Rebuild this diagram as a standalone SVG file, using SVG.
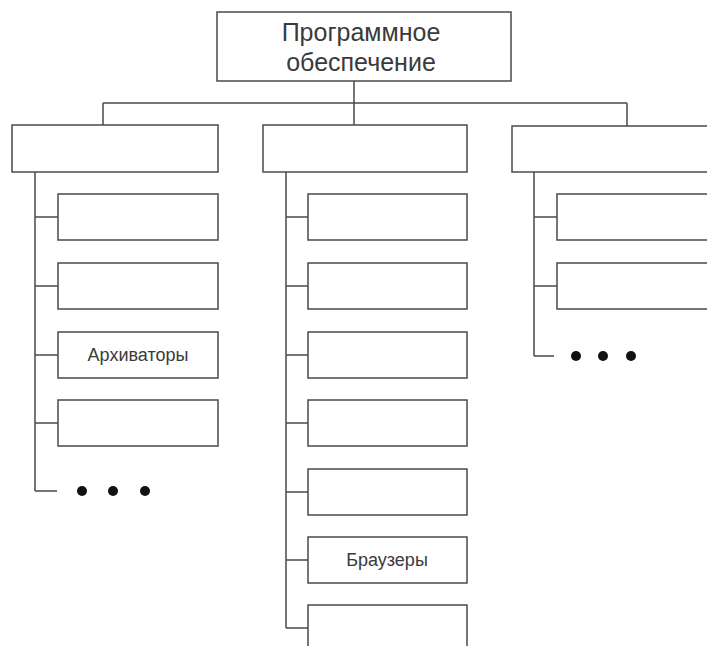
<svg xmlns="http://www.w3.org/2000/svg" width="707" height="646" viewBox="0 0 707 646">
<style>
.b{fill:#fff;stroke:#4a4a4a;stroke-width:1.5}
.c{fill:none;stroke:#4a4a4a;stroke-width:1.5}
.t{font-family:"Liberation Sans",Arial,sans-serif;fill:#3a3a3a;text-anchor:middle}
.d{fill:#111}
</style>
<rect width="707" height="646" fill="#fff"/>
<g id="connectors">
<path class="c" d="M354 81V103M103 103H627M103 103V125M354 103V125M627 103V126"/>
<path class="c" d="M35 172V491M35 217H58M35 286H58M35 355H58M35 423H58M35 491H57"/>
<path class="c" d="M286 172V628M286 217H308M286 286H308M286 355H308M286 423H308M286 492H308M286 560H308M286 628H308"/>
<path class="c" d="M534 172V356M534 217H557M534 286H557M534 356H554"/>
</g>
<g id="root">
<rect class="b" x="217" y="12" width="294" height="69"/>
<text class="t" x="361" y="41" font-size="25">Программное</text>
<text class="t" x="361" y="71" font-size="25">обеспечение</text>
</g>
<g id="left">
<rect class="b" x="12" y="125" width="206" height="47"/>
</g>
<g id="left-1"><rect class="b" x="58" y="194" width="160" height="46"/></g>
<g id="left-2"><rect class="b" x="58" y="263" width="160" height="46"/></g>
<g id="left-3"><rect class="b" x="58" y="332" width="160" height="46"/><text class="t" x="138" y="361" font-size="18">Архиваторы</text></g>
<g id="left-4"><rect class="b" x="58" y="400" width="160" height="46"/></g>
<g id="left-more"><circle class="d" cx="82" cy="491" r="5"/><circle class="d" cx="113" cy="491" r="5"/><circle class="d" cx="145" cy="491" r="5"/></g>
<g id="middle">
<rect class="b" x="263" y="125" width="204" height="47"/>
</g>
<g id="middle-1"><rect class="b" x="308" y="194" width="159" height="46"/></g>
<g id="middle-2"><rect class="b" x="308" y="263" width="159" height="46"/></g>
<g id="middle-3"><rect class="b" x="308" y="332" width="159" height="46"/></g>
<g id="middle-4"><rect class="b" x="308" y="400" width="159" height="46"/></g>
<g id="middle-5"><rect class="b" x="308" y="469" width="159" height="46"/></g>
<g id="middle-6"><rect class="b" x="308" y="537" width="159" height="46"/><text class="t" x="387" y="566" font-size="18">Браузеры</text></g>
<g id="middle-7"><rect class="b" x="308" y="605" width="159" height="46"/></g>
<g id="right">
<rect class="b" x="512" y="126" width="210" height="46"/>
</g>
<g id="right-1"><rect class="b" x="557" y="194" width="165" height="46"/></g>
<g id="right-2"><rect class="b" x="557" y="263" width="165" height="46"/></g>
<g id="right-more"><circle class="d" cx="576" cy="356" r="5"/><circle class="d" cx="603" cy="356" r="5"/><circle class="d" cx="631" cy="356" r="5"/></g>
</svg>
